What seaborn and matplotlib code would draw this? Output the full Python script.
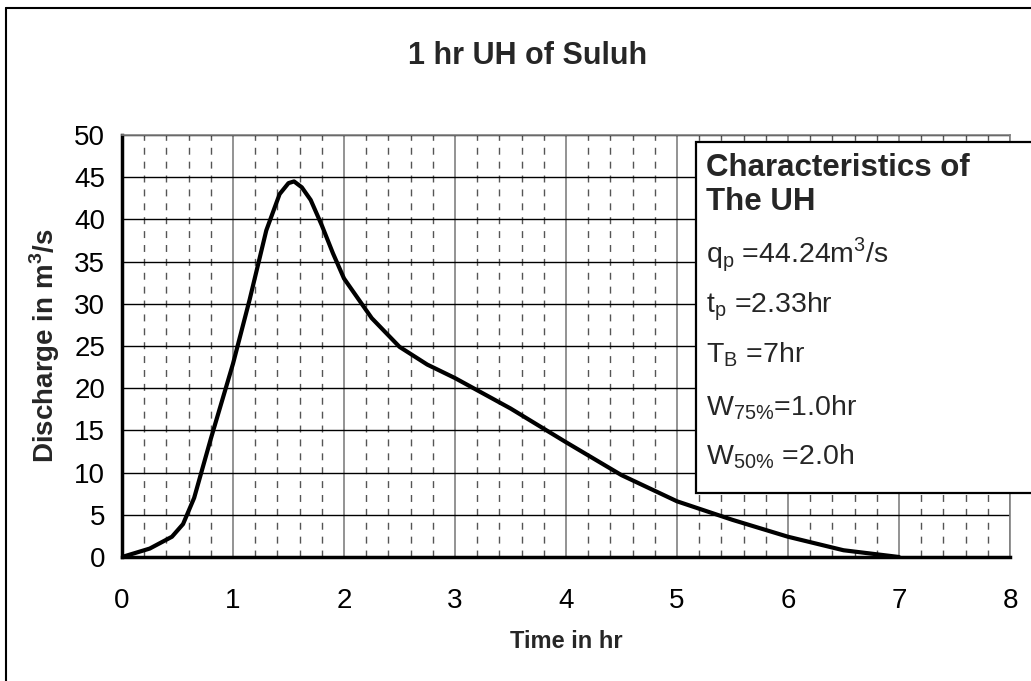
import numpy as np
import pandas as pd
import seaborn as sns
import matplotlib.pyplot as plt
from matplotlib.ticker import MultipleLocator
from matplotlib.patches import Rectangle
from matplotlib.lines import Line2D

# unit hydrograph ordinates
time_hr = [0, 0.25, 0.45, 0.55, 0.65, 0.8, 1.0, 1.15, 1.3, 1.42, 1.5, 1.55, 1.62, 1.7, 1.8,
           1.9, 2.0, 2.25, 2.5, 2.75, 3.0, 3.5, 4.0, 4.5, 5.0, 5.5, 6.0, 6.5, 7.0]
discharge = [0, 1.0, 2.4, 3.9, 7.0, 14.0, 22.9, 30.5, 38.7, 43.0, 44.3, 44.5, 43.8, 42.3, 39.3,
             36.0, 33.0, 28.3, 24.9, 22.8, 21.2, 17.6, 13.6, 9.7, 6.6, 4.4, 2.4, 0.8, 0]

box_title = ["Characteristics of", "The UH"]
box_lines = [r"q$_\mathregular{p}$ =44.24m$^\mathregular{3}$/s",
             r"t$_\mathregular{p}$ =2.33hr",
             r"T$_\mathregular{B}$ =7hr",
             r"W$_\mathregular{75\%}$=1.0hr",
             r"W$_\mathregular{50\%}$ =2.0h"]

df = pd.DataFrame({"Time": time_hr, "Discharge": discharge})

sns.set_style("white")
plt.rcParams["font.family"] = ["Liberation Sans", "DejaVu Sans"]
plt.rcParams["mathtext.fontset"] = "custom"
plt.rcParams["mathtext.rm"] = "Liberation Sans"
plt.rcParams["mathtext.bf"] = "Liberation Sans:bold"

W, H = 1031, 681
fig = plt.figure(figsize=(W / 100, H / 100), dpi=100)
ax = fig.add_axes([122 / W, 1 - 557 / H, (1010 - 122) / W, (557 - 135) / H])

sns.lineplot(data=df, x="Time", y="Discharge", color="black", linewidth=3, ax=ax, zorder=5)

ax.set_xlim(0, 8)
ax.set_ylim(0, 50)
ax.xaxis.set_major_locator(MultipleLocator(1))
ax.xaxis.set_minor_locator(MultipleLocator(0.2))
ax.yaxis.set_major_locator(MultipleLocator(5))

ax.grid(which="minor", axis="x", color="#555555", linewidth=1, linestyle=(0, (5, 5)))
ax.grid(which="major", axis="x", color="#808080", linewidth=1.2, linestyle="-")
ax.grid(which="major", axis="y", color="black", linewidth=1, linestyle="-")
ax.set_axisbelow(True)

for side in ["left", "bottom"]:
    ax.spines[side].set_color("black")
    ax.spines[side].set_linewidth(2.5)
for side in ["top", "right"]:
    ax.spines[side].set_color("#808080")
    ax.spines[side].set_linewidth(1.2)

ax.tick_params(which="major", direction="out", length=5, width=2.5, labelsize=20,
               colors="black")
ax.tick_params(axis="y", pad=7)
ax.tick_params(axis="x", pad=17)
ax.tick_params(which="minor", length=0)

ax.set_xlabel("Time in hr", fontsize=17, fontweight="bold", labelpad=12)
ax.set_ylabel(r"Discharge in m$^\mathbf{3}$/s", fontsize=20, fontweight="bold", labelpad=9)

fig.text(528 / W, 1 - 64 / H, "1 hr UH of Suluh", fontsize=22, fontweight="bold",
         ha="center", va="baseline")

# outer border (only top and left visible)
fig.add_artist(Line2D([6 / W, 1], [1 - 8 / H, 1 - 8 / H], color="black", lw=1.5))
fig.add_artist(Line2D([6 / W, 6 / W], [0, 1 - 8 / H], color="black", lw=1.5))

# characteristics box
fig.add_artist(Rectangle((696 / W, 1 - 493 / H), (W + 20 - 696) / W, (493 - 142) / H,
                         transform=fig.transFigure, facecolor="white", edgecolor="black",
                         lw=1.6, zorder=6, clip_on=False))
for txt, yb in zip(box_title, [176, 210]):
    fig.text(706 / W, 1 - yb / H, txt, fontsize=22.5, fontweight="bold", va="baseline", zorder=7)
for txt, yb in zip(box_lines, [262, 312, 362, 415, 464]):
    fig.text(706 / W, 1 - yb / H, txt, fontsize=20.5, va="baseline", zorder=7)

fig.savefig("out.png", dpi=100)
